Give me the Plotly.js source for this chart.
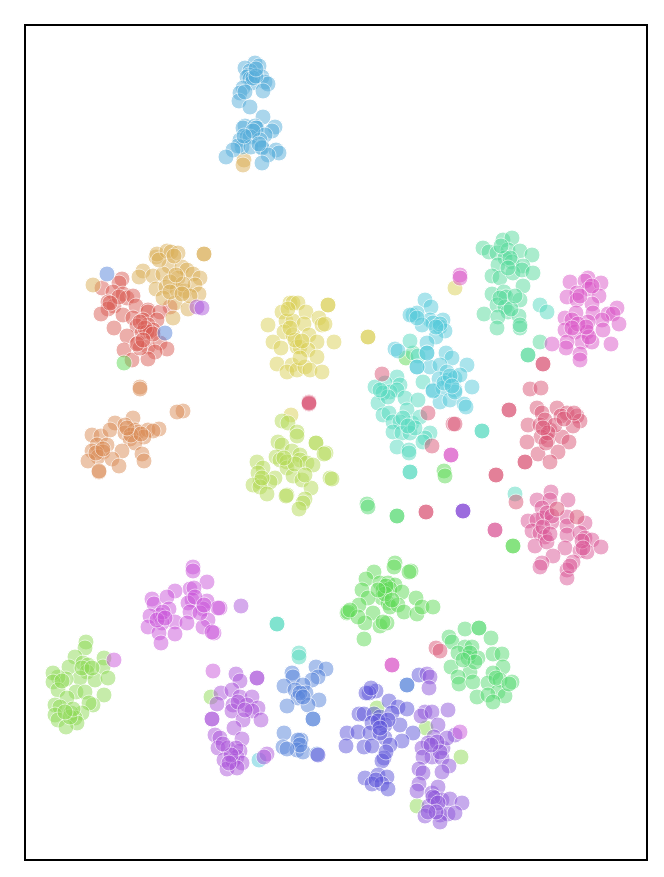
<!DOCTYPE html>
<html><head><meta charset="utf-8">
<script src="https://cdn.plot.ly/plotly-3.0.1.min.js"></script>
<style>html,body{margin:0;padding:0;background:#fff}</style></head>
<body><div id="chart" style="width:664px;height:877px"></div>
<script>
const red=[[122,279],[119,283],[102,288],[113,292],[123,294],[127,298],[133,296],[108,302],[114,306],[108,309],[101,314],[123,315],[136,306],[148,310],[148,312],[170,307],[160,312],[133,318],[143,320],[157,320],[137,326],[148,325],[114,328],[153,330],[127,336],[142,333],[147,332],[150,332],[138,343],[148,347],[160,343],[167,349],[124,350],[155,352],[132,360],[148,359],[140,348],[137,344],[145,328],[153,334],[140,322],[119,297],[110,303],[143,340]];
const orange=[[140,387],[140,389],[183,411],[177,412],[115,423],[133,418],[92,435],[101,436],[110,430],[125,425],[125,433],[135,430],[138,432],[148,430],[159,429],[153,431],[144,437],[130,439],[135,443],[97,445],[107,445],[122,451],[92,451],[103,452],[98,457],[88,461],[112,459],[142,454],[144,461],[119,466],[99,472],[99,471],[131,435],[141,434],[96,453],[103,449],[127,428]];
const tan=[[156,257],[157,254],[167,251],[171,252],[178,253],[204,254],[204,254],[169,266],[182,267],[187,270],[143,271],[139,277],[153,276],[163,274],[178,278],[193,274],[200,278],[156,289],[166,287],[177,290],[185,291],[195,285],[199,294],[163,298],[175,303],[188,309],[173,318],[93,285],[170,282],[183,284],[190,296],[244,160],[243,165],[176,275],[170,292],[174,256],[182,294],[159,260]];
const yellow=[[290,303],[293,303],[298,303],[282,312],[306,312],[268,325],[286,321],[293,321],[304,324],[319,318],[322,325],[325,324],[284,332],[309,335],[293,335],[273,342],[281,348],[317,342],[297,347],[300,347],[308,350],[317,357],[277,364],[292,365],[287,372],[297,370],[305,367],[310,370],[322,372],[328,305],[328,305],[334,342],[368,337],[368,337],[455,288],[291,415],[295,340],[288,309],[302,341],[290,328],[300,358]];
const lime=[[282,421],[288,423],[297,432],[297,436],[278,442],[282,445],[316,443],[316,443],[326,453],[324,454],[292,451],[300,455],[276,457],[280,460],[287,462],[300,460],[307,463],[313,465],[257,462],[263,468],[258,473],[287,468],[293,476],[302,480],[330,478],[332,479],[275,478],[270,482],[260,482],[253,485],[260,487],[267,494],[287,495],[286,496],[311,488],[305,499],[303,503],[299,509],[295,464],[284,458],[262,478],[305,475]];
const leaf=[[86,642],[85,648],[75,657],[69,667],[83,663],[88,665],[104,658],[103,667],[87,672],[80,678],[66,679],[58,677],[53,673],[53,682],[95,680],[108,678],[58,690],[76,692],[85,692],[67,698],[104,695],[93,705],[89,703],[55,705],[60,707],[82,713],[71,713],[55,715],[75,718],[58,720],[77,723],[66,727],[70,717],[211,697],[377,708],[426,728],[461,757],[417,806],[82,668],[92,668],[62,681],[73,709],[65,712]];
const green=[[395,563],[394,567],[374,572],[411,571],[409,572],[366,579],[380,583],[388,583],[395,585],[362,590],[383,590],[390,589],[402,592],[382,598],[368,598],[416,598],[388,603],[390,607],[398,605],[359,605],[347,613],[348,612],[373,613],[404,612],[417,614],[422,607],[433,607],[365,623],[380,626],[387,623],[364,639],[358,617],[124,363],[444,471],[445,476],[513,546],[513,546],[406,358],[385,594],[392,600],[350,610],[386,586],[378,590],[383,622]];
const emerald=[[465,629],[479,628],[479,628],[449,637],[452,642],[491,638],[465,647],[472,647],[458,653],[468,658],[478,658],[493,654],[502,654],[451,667],[470,672],[503,667],[493,673],[458,677],[459,684],[473,682],[488,683],[500,680],[512,682],[498,692],[505,696],[477,697],[488,695],[493,702],[367,504],[368,507],[397,516],[397,516],[470,653],[475,662],[496,678],[509,684],[463,660]];
const mint=[[503,240],[512,238],[483,248],[489,252],[497,253],[508,250],[520,251],[532,255],[505,258],[512,262],[523,266],[498,265],[492,276],[500,278],[513,273],[522,270],[533,273],[492,294],[504,292],[506,297],[523,286],[520,300],[497,305],[505,307],[484,314],[508,312],[498,317],[519,316],[497,328],[520,328],[520,325],[540,342],[528,355],[528,355],[413,353],[510,258],[501,246],[500,298],[511,309],[508,268],[515,296]];
const teal=[[397,377],[385,383],[375,387],[400,385],[390,392],[397,390],[383,393],[378,403],[405,398],[418,400],[423,382],[383,415],[389,413],[407,410],[393,422],[400,422],[412,423],[420,417],[393,432],[402,433],[410,433],[430,433],[425,438],[423,442],[397,447],[409,450],[409,453],[410,472],[410,472],[482,431],[482,431],[277,624],[277,624],[299,653],[299,657],[515,494],[540,305],[547,312],[410,341],[418,356],[403,418],[415,428],[388,397],[380,390],[408,426]];
const cyan=[[425,300],[431,307],[413,315],[417,313],[410,315],[430,320],[443,320],[433,323],[422,325],[440,327],[445,331],[436,337],[427,343],[395,349],[398,351],[427,353],[446,353],[452,358],[467,365],[417,367],[430,367],[440,365],[447,372],[439,379],[433,390],[448,380],[455,378],[472,387],[455,390],[443,388],[460,375],[440,402],[450,400],[464,404],[466,407],[433,391],[455,392],[259,760],[444,383],[450,376],[452,386],[440,324],[436,327],[417,318],[427,353],[417,367]];
const sky=[[255,63],[259,66],[245,68],[250,71],[249,75],[247,77],[250,79],[262,77],[265,82],[268,84],[252,83],[243,88],[240,93],[263,91],[239,101],[250,107],[263,117],[245,126],[243,128],[255,126],[257,128],[256,128],[275,127],[272,131],[265,135],[240,140],[247,137],[250,137],[260,140],[242,147],[238,146],[251,147],[262,147],[262,148],[233,150],[226,157],[276,150],[279,153],[268,155],[262,163],[253,78],[253,131],[244,136],[259,144],[256,76],[256,69],[245,92]];
const blue=[[292,673],[293,677],[316,667],[326,669],[318,677],[312,680],[284,686],[303,685],[295,690],[306,693],[298,698],[319,700],[287,706],[308,705],[313,719],[313,719],[284,733],[301,740],[298,740],[283,747],[297,750],[303,752],[317,754],[107,274],[165,333],[407,685],[407,685],[300,693],[303,697],[300,745],[287,749]];
const indigo=[[376,691],[369,693],[366,693],[389,701],[398,707],[407,709],[359,714],[364,714],[374,714],[380,717],[392,713],[385,725],[372,723],[400,725],[347,733],[358,732],[370,733],[385,738],[413,733],[402,741],[346,746],[364,747],[372,746],[390,745],[384,758],[382,761],[365,778],[378,775],[387,777],[372,784],[382,784],[388,789],[318,755],[419,675],[378,721],[388,720],[386,752],[376,780],[380,733],[380,728],[371,688]];
const violet=[[427,674],[430,677],[429,688],[425,712],[421,716],[432,712],[448,710],[438,725],[434,737],[428,743],[422,748],[443,748],[455,735],[447,738],[432,757],[423,757],[442,758],[449,766],[442,772],[419,769],[423,773],[419,784],[417,791],[432,793],[438,787],[435,798],[442,800],[450,799],[462,803],[429,806],[425,816],[440,815],[448,814],[455,813],[440,822],[433,797],[463,511],[463,511],[463,511],[437,742],[440,752],[431,745],[438,803],[436,812],[428,812]];
const purple=[[236,674],[240,681],[257,678],[257,678],[221,693],[232,690],[217,704],[240,697],[252,697],[233,705],[247,705],[258,708],[232,711],[252,711],[243,720],[261,720],[212,719],[212,719],[234,728],[215,735],[220,738],[242,739],[218,748],[228,748],[240,751],[237,757],[224,760],[233,761],[242,763],[227,769],[237,768],[267,754],[264,757],[197,307],[202,308],[241,606],[238,702],[245,710],[236,748],[231,755],[223,744],[229,763]];
const orchid=[[193,567],[193,571],[207,582],[190,589],[194,588],[175,591],[152,599],[154,604],[167,597],[192,600],[207,601],[188,603],[220,608],[218,608],[203,609],[169,609],[160,615],[150,616],[190,612],[208,620],[175,622],[187,623],[162,623],[148,627],[203,627],[214,633],[175,634],[159,633],[161,643],[200,613],[114,660],[213,671],[460,732],[163,612],[195,597],[204,605],[157,620],[212,632],[165,618]];
const magenta=[[570,282],[588,278],[585,281],[589,289],[601,283],[577,293],[567,297],[577,300],[599,296],[592,304],[565,318],[576,313],[572,320],[593,313],[608,314],[617,308],[613,314],[619,324],[602,320],[588,322],[587,332],[565,330],[575,332],[603,330],[582,342],[592,342],[567,342],[566,348],[611,344],[580,354],[580,360],[552,344],[589,337],[460,275],[460,278],[451,455],[451,455],[392,665],[392,665],[578,324],[586,327],[592,286],[580,296],[572,328]];
const pink=[[551,492],[537,500],[568,500],[550,500],[542,508],[567,517],[543,518],[552,522],[528,521],[537,520],[585,523],[567,526],[532,531],[540,533],[567,535],[580,533],[545,537],[585,538],[592,540],[535,546],[547,542],[565,548],[580,551],[587,552],[601,547],[553,556],[542,563],[540,567],[573,562],[567,570],[567,578],[495,530],[495,530],[547,513],[552,516],[543,527],[550,534],[582,541],[570,566],[583,548]];
const rose=[[530,389],[541,388],[537,408],[542,413],[557,408],[567,413],[561,416],[577,416],[580,421],[528,425],[540,425],[573,426],[550,430],[541,437],[527,442],[548,440],[562,437],[569,442],[538,454],[558,452],[525,462],[525,462],[550,462],[545,420],[555,425],[543,364],[543,364],[382,374],[428,413],[432,446],[453,424],[455,424],[509,410],[509,410],[496,475],[496,475],[426,512],[426,512],[309,402],[309,404],[309,403],[436,648],[440,651],[557,509],[577,517],[516,502],[548,433],[543,428],[564,419],[574,413],[546,443]];

const groups=[
 [red,'#db5f57'],[orange,'#db8d57'],[tan,'#dbaf57'],[yellow,'#dbd157'],[lime,'#b5db57'],[leaf,'#8fdb57'],
 [green,'#5fdb57'],[emerald,'#57db73'],[mint,'#57db9c'],[teal,'#57dbc0'],[cyan,'#57cbdb'],[sky,'#57aedb'],
 [blue,'#5784db'],[indigo,'#5f57db'],[violet,'#8f57db'],[purple,'#ad57db'],[orchid,'#cb57db'],[magenta,'#db57c8'],
 [pink,'#db5797'],[rose,'#db5777']];

const traces=groups.map(([pts,color])=>({
  type:'scatter',mode:'markers',
  x:pts.map(p=>p[0]),y:pts.map(p=>p[1]),
  marker:{size:16,color:color,opacity:0.5,line:{color:'#ffffff',width:1}},
  hoverinfo:'skip',showlegend:false
}));
const axis={showgrid:false,zeroline:false,showticklabels:false,ticks:'',showline:true,mirror:true,linecolor:'#000',linewidth:2};
Plotly.newPlot('chart',traces,{
  width:664,height:877,showlegend:false,
  paper_bgcolor:'#fff',plot_bgcolor:'#fff',
  margin:{l:26,r:18,t:26,b:18,pad:0},
  xaxis:Object.assign({range:[26,646]},axis),
  yaxis:Object.assign({range:[859,26]},axis)
},{displayModeBar:false,staticPlot:true});
</script></body></html>
